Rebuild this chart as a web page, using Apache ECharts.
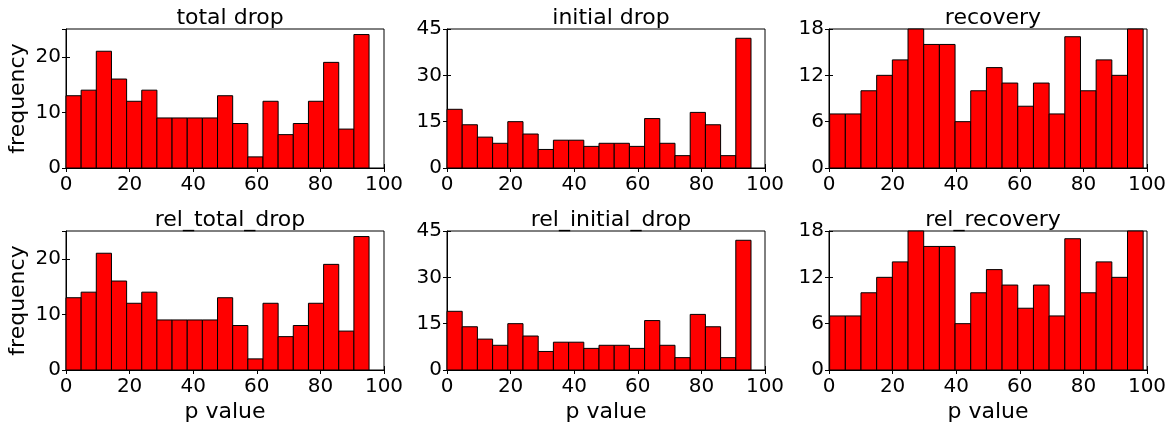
<!DOCTYPE html>
<html>
<head>
<meta charset="utf-8">
<script src="https://cdn.jsdelivr.net/npm/echarts@6/dist/echarts.min.js"></script>
<style>html,body{margin:0;padding:0;background:#fff;}#c{width:1174px;height:423px;}</style>
</head>
<body>
<div id="c"></div>
<script>
// ---- data ----
const panelTitles = ['total drop', 'initial drop', 'recovery', 'rel_total_drop', 'rel_initial_drop', 'rel_recovery'];
const totalDropCounts = [13, 14, 21, 16, 12, 14, 9, 9, 9, 9, 13, 8, 2, 12, 6, 8, 12, 19, 7, 24];
const initialDropCounts = [19, 14, 10, 8, 15, 11, 6, 9, 9, 7, 8, 8, 7, 16, 8, 4, 18, 14, 4, 42];
const recoveryCounts = [7, 7, 10, 12, 14, 18, 16, 16, 6, 10, 13, 11, 8, 11, 7, 17, 10, 14, 12, 18];
const relTotalDropCounts = [13, 14, 21, 16, 12, 14, 9, 9, 9, 9, 13, 8, 2, 12, 6, 8, 12, 19, 7, 24];
const relInitialDropCounts = [19, 14, 10, 8, 15, 11, 6, 9, 9, 7, 8, 8, 7, 16, 8, 4, 18, 14, 4, 42];
const relRecoveryCounts = [7, 7, 10, 12, 14, 18, 16, 16, 6, 10, 13, 11, 8, 11, 7, 17, 10, 14, 12, 18];
// histogram ranges (min and max p value of each sample)
const totalDropRange = [0, 95.3];
const initialDropRange = [0, 95.6];
const recoveryRange = [0.2, 98.8];
const xTicks = [0, 20, 40, 60, 80, 100];
const yMaxes = [25, 45, 18, 25, 45, 18];
const yIntervals = [10, 15, 6, 10, 15, 6];

const panelCounts = [totalDropCounts, initialDropCounts, recoveryCounts, relTotalDropCounts, relInitialDropCounts, relRecoveryCounts];
const panelRanges = [totalDropRange, initialDropRange, recoveryRange, totalDropRange, initialDropRange, recoveryRange];

function histData(counts, range) {
  const n = counts.length, w = (range[1] - range[0]) / n;
  return counts.map((c, i) => [range[0] + i * w, range[0] + (i + 1) * w, c]);
}

// ---- layout ----
const FONT = 'DejaVu Sans';
const colLeft = [66, 447, 829];
const colWidth = 318;
const rowTop = [29, 231];
const rowHeight = 139;

const grids = [], xAxes = [], yAxes = [], series = [], titles = [];
for (let p = 0; p < 6; p++) {
  const r = Math.floor(p / 3), c = p % 3;
  const maxIsTick = yMaxes[p] % yIntervals[p] === 0;
  grids.push({left: colLeft[c], top: rowTop[r], width: colWidth, height: rowHeight,
    show: true, borderColor: '#000', borderWidth: 1, backgroundColor: 'transparent',
    containLabel: false, outerBoundsMode: 'none'});
  titles.push({text: panelTitles[p], left: colLeft[c] + colWidth / 2, top: rowTop[r] - 27, textAlign: 'center',
    textStyle: {fontFamily: FONT, fontSize: 22, fontWeight: 'normal', color: '#000'}});
  const xa = {type: 'value', gridIndex: p, min: xTicks[0], max: xTicks[xTicks.length - 1], interval: 20,
    axisLine: {show: true, lineStyle: {color: '#000', width: 1}},
    axisTick: {show: true, inside: true, length: 4, lineStyle: {color: '#000'}},
    axisLabel: {show: true, fontFamily: FONT, fontSize: 20, color: '#000', margin: 7},
    splitLine: {show: false}};
  if (r === 1) {
    xa.name = 'p value'; xa.nameLocation = 'middle'; xa.nameGap = 31;
    xa.nameTextStyle = {fontFamily: FONT, fontSize: 22, color: '#000'};
  }
  xAxes.push(xa);
  xAxes.push({type: 'value', gridIndex: p, position: 'top', min: 0, max: 100, interval: 20,
    axisLine: {show: false}, axisTick: {show: true, inside: true, length: 4, lineStyle: {color: '#000'}},
    axisLabel: {show: false}, splitLine: {show: false}});
  const ya = {type: 'value', gridIndex: p, min: 0, max: yMaxes[p], interval: yIntervals[p],
    axisLine: {show: true, lineStyle: {color: '#000', width: 1}},
    axisTick: {show: true, inside: true, length: 4, lineStyle: {color: '#000'}},
    axisLabel: {show: true, fontFamily: FONT, fontSize: 20, color: '#000', margin: 5, showMaxLabel: maxIsTick},
    splitLine: {show: false}};
  if (c === 0) {
    ya.name = 'frequency'; ya.nameLocation = 'middle'; ya.nameGap = 37;
    ya.nameTextStyle = {fontFamily: FONT, fontSize: 22, color: '#000'};
  }
  yAxes.push(ya);
  yAxes.push({type: 'value', gridIndex: p, position: 'right', min: 0, max: yMaxes[p], interval: yIntervals[p],
    axisLine: {show: false}, axisTick: {show: true, inside: true, length: 4, lineStyle: {color: '#000'}},
    axisLabel: {show: false}, splitLine: {show: false}});
  series.push({type: 'custom', xAxisIndex: 2 * p, yAxisIndex: 2 * p,
    data: histData(panelCounts[p], panelRanges[p]),
    encode: {x: [0, 1], y: 2},
    renderItem: function (params, api) {
      const a = api.coord([api.value(0), 0]);
      const b = api.coord([api.value(1), api.value(2)]);
      return {type: 'rect', shape: {x: a[0], y: b[1], width: b[0] - a[0], height: a[1] - b[1]},
        style: {fill: '#ff0000', stroke: '#000', lineWidth: 1}};
    }, silent: true, animation: false});
}

const chart = echarts.init(document.getElementById('c'), null, {renderer: 'canvas'});
chart.setOption({animation: false, backgroundColor: '#fff', title: titles, grid: grids, xAxis: xAxes, yAxis: yAxes, series: series});
</script>
</body>
</html>
